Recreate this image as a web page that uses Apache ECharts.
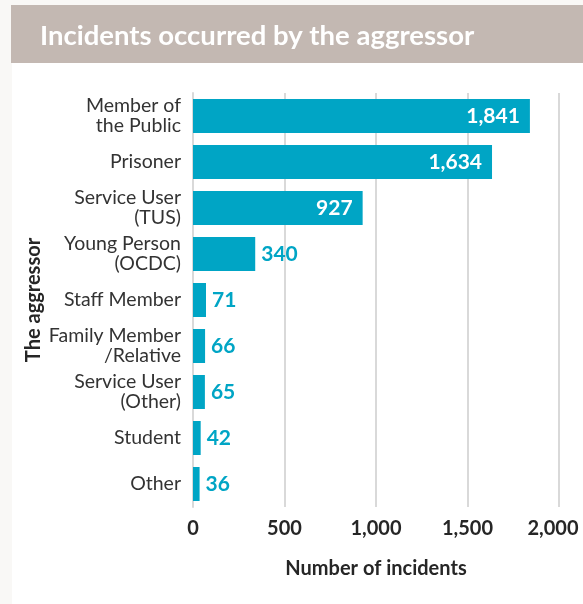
<!DOCTYPE html>
<html>
<head>
<meta charset="utf-8">
<script src="https://cdn.jsdelivr.net/npm/echarts@6/dist/echarts.min.js"></script>
<style>
  html, body { margin: 0; padding: 0; background: #f9f8f6; }
  #chart { width: 583px; height: 604px; }
</style>
</head>
<body>
<div id="chart"></div>
<script>
// Aggressor categories, top to bottom
const categories = [
  'Member of\nthe Public',
  'Prisoner',
  'Service User\n(TUS)',
  'Young Person\n(OCDC)',
  'Staff Member',
  'Family Member\n/Relative',
  'Service User\n(Other)',
  'Student',
  'Other'
];
// Number of incidents per aggressor
const incidents = [1841, 1634, 927, 340, 71, 66, 65, 42, 36];
// Value axis ticks
const xTicks = [0, 500, 1000, 1500, 2000];

const FONT = 'Lato, "Open Sans", sans-serif';
const TEAL = '#00a5c5';

const chart = echarts.init(document.getElementById('chart'));

const fmt = v => v.toLocaleString('en-US');
const xMax = xTicks[xTicks.length - 1];

chart.setOption({
  backgroundColor: 'transparent',
  animation: false,
  graphic: [
    { type: 'rect', z: -10, shape: { x: 12, y: 63, width: 571, height: 541 }, style: { fill: '#ffffff' } },
    { type: 'rect', z: -10, shape: { x: 11, y: 5, width: 572, height: 58 }, style: { fill: '#c3b8b2' } }
  ],
  title: {
    text: 'Incidents occurred by the aggressor',
    left: 35,
    top: 17,
    textStyle: { color: '#ffffff', fontFamily: FONT, fontWeight: 'bold', fontSize: 27.5 }
  },
  grid: { left: 193, right: 24, top: 93, bottom: 97, containLabel: false, outerBoundsMode: 'none' },
  xAxis: {
    type: 'value',
    min: xTicks[0],
    max: xMax,
    interval: 500,
    name: 'Number of incidents',
    nameLocation: 'middle',
    nameGap: 52,
    nameTextStyle: { color: '#262626', fontFamily: FONT, fontWeight: 'bold', fontSize: 20 },
    axisLine: { show: false },
    axisTick: { show: false },
    axisLabel: {
      color: '#262626', fontFamily: FONT, fontWeight: 'bold', fontSize: 20, margin: 12,
      // the last label is nudged left so it stays inside the panel
      formatter: v => v === xMax ? '{last|' + fmt(v) + '}' : fmt(v),
      rich: {
        last: { color: '#262626', fontFamily: FONT, fontWeight: 'bold', fontSize: 20, padding: [0, 12, 0, 0] }
      }
    },
    splitLine: { show: true, lineStyle: { color: '#d9d9d9', width: 2 } }
  },
  yAxis: {
    type: 'category',
    inverse: true,
    data: categories,
    name: 'The aggressor',
    nameLocation: 'middle',
    nameRotate: 90,
    nameGap: 149,
    nameMoveOverlap: false,
    nameTextStyle: { color: '#262626', fontFamily: FONT, fontWeight: 'bold', fontSize: 20 },
    axisLine: { show: true, lineStyle: { color: '#d9d9d9', width: 2 } },
    axisTick: { show: false },
    axisLabel: { color: '#333333', fontFamily: FONT, fontSize: 19.5, lineHeight: 20, margin: 12 }
  },
  series: [{
    type: 'bar',
    data: incidents.map(v => ({
      value: v,
      label: v > 900
        ? { position: 'insideRight', color: '#ffffff', distance: 10 }
        : { position: 'right', color: TEAL, distance: 6 }
    })),
    barCategoryGap: '26%',
    itemStyle: { color: TEAL },
    label: {
      show: true,
      fontFamily: FONT,
      fontWeight: 'bold',
      fontSize: 21,
      formatter: p => fmt(p.value)
    }
  }]
});
</script>
</body>
</html>
